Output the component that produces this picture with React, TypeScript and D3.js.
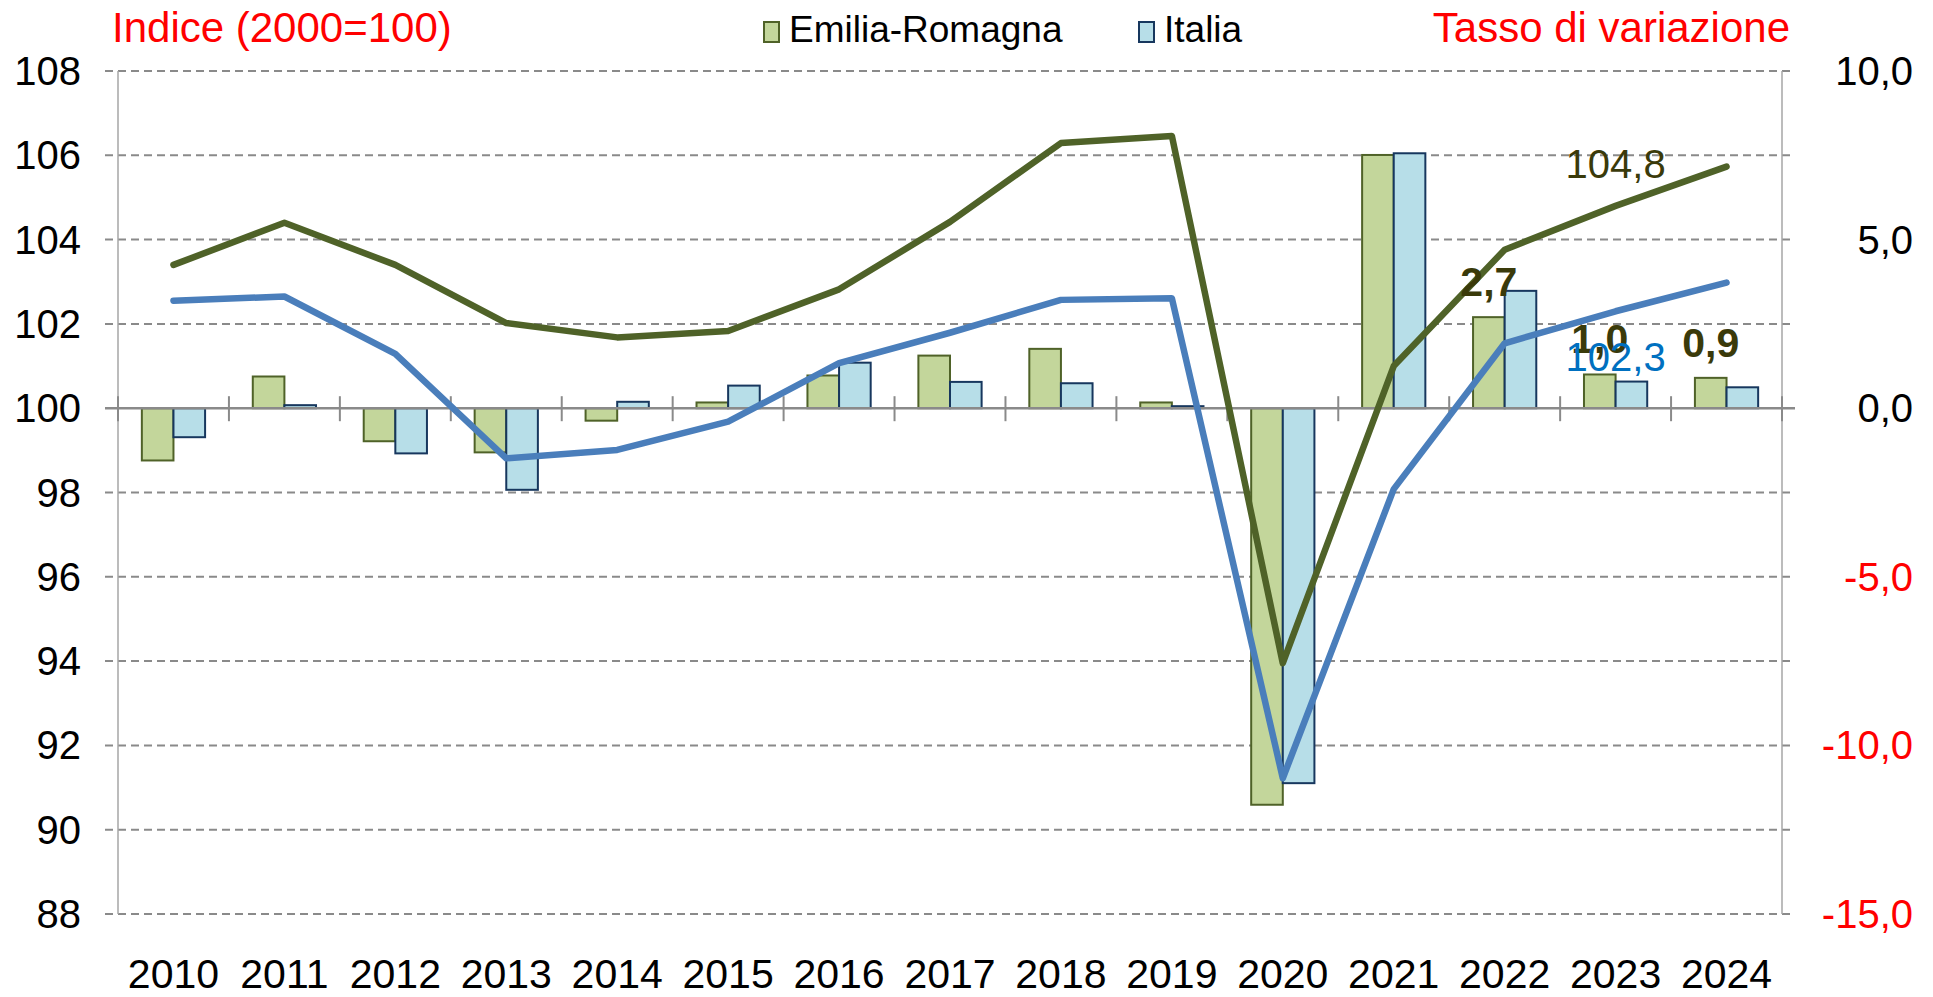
import { useEffect, useRef } from 'react';
import * as d3 from 'd3';

const years = ['2010', '2011', '2012', '2013', '2014', '2015', '2016', '2017', '2018', '2019', '2020', '2021', '2022', '2023', '2024'];
// tasso di variazione (asse destro, barre)
const erRate = [-1.55, 0.94, -0.98, -1.31, -0.37, 0.17, 0.97, 1.56, 1.76, 0.17, -11.76, 7.51, 2.7, 1.0, 0.9];
const itRate = [-0.86, 0.09, -1.34, -2.42, 0.19, 0.67, 1.35, 0.78, 0.74, 0.06, -11.12, 7.56, 3.48, 0.79, 0.62];
// indice 2000=100 (asse sinistro, linee)
const erIndex = [103.4, 104.4, 103.4, 102.02, 101.68, 101.83, 102.82, 104.42, 106.29, 106.46, 93.95, 101.0, 103.76, 104.8, 105.73];
const itIndex = [102.55, 102.65, 101.29, 98.81, 99.01, 99.68, 101.07, 101.79, 102.57, 102.61, 91.22, 98.08, 101.54, 102.3, 102.98];

const leftTicks = [88, 90, 92, 94, 96, 98, 100, 102, 104, 106, 108];
const rightTicks = [-15, -10, -5, 0, 5, 10];
const seriesNames = ['Emilia-Romagna', 'Italia'];
const barLabelYears = ['2022', '2023', '2024'];
const lineLabelYear = '2023';

const FONT = '"Liberation Sans", Arial, sans-serif';
const GREEN_FILL = '#C3D69B';
const GREEN_DARK = '#4F6228';
const BLUE_FILL = '#B7DEE8';
const BLUE_DARK = '#17375E';
const BLUE_LINE = '#4A7EBB';
const LABEL_DARK = '#3A3A0A';

export default function App() {
  const ref = useRef<SVGSVGElement>(null);
  const width = 1933;
  const height = 997;

  useEffect(() => {
    if (!ref.current) return;
    const svg = d3.select(ref.current);
    svg.selectAll('*').remove();

    const left = 118, right = 1782, top = 71, bottom = 914;
    const x = d3.scaleBand().domain(years).range([left, right]).padding(0);
    const yL = d3.scaleLinear().domain([88, 108]).range([bottom, top]);
    const yR = d3.scaleLinear().domain([-15, 10]).range([bottom, top]);
    const inner = d3.scaleBand().domain(seriesNames).range([-x.bandwidth() * 0.285, x.bandwidth() * 0.285]);
    const fmt = d3.formatLocale({ decimal: ',', thousands: '.', grouping: [3], currency: ['', '€'], minus: '-' }).format('.1f');
    const cx = (d: string) => x(d)! + x.bandwidth() / 2;

    // griglia
    svg.append('g').selectAll('line').data(leftTicks.filter((t) => t !== 100)).enter().append('line')
      .attr('x1', left - 13).attr('x2', right + 13)
      .attr('y1', (d) => yL(d)).attr('y2', (d) => yL(d))
      .attr('stroke', '#8a8a8a').attr('stroke-width', 2).attr('stroke-dasharray', '8,5');

    // assi verticali
    [left, right].forEach((xx) => {
      svg.append('line').attr('x1', xx).attr('x2', xx).attr('y1', top).attr('y2', bottom)
        .attr('stroke', '#a6a6a6').attr('stroke-width', 1.5);
    });

    // barre
    const bars = svg.append('g');
    bars.selectAll('rect.er').data(years).enter().append('rect')
      .attr('x', (d) => cx(d) + inner('Emilia-Romagna')!)
      .attr('width', inner.bandwidth())
      .attr('y', (d, i) => Math.min(yR(erRate[i]), yR(0)))
      .attr('height', (d, i) => Math.abs(yR(erRate[i]) - yR(0)))
      .attr('fill', GREEN_FILL).attr('stroke', GREEN_DARK).attr('stroke-width', 2);
    bars.selectAll('rect.it').data(years).enter().append('rect')
      .attr('x', (d) => cx(d) + inner('Italia')!)
      .attr('width', inner.bandwidth())
      .attr('y', (d, i) => Math.min(yR(itRate[i]), yR(0)))
      .attr('height', (d, i) => Math.abs(yR(itRate[i]) - yR(0)))
      .attr('fill', BLUE_FILL).attr('stroke', BLUE_DARK).attr('stroke-width', 2);

    // linea dello zero con tacche
    const y0 = yR(0);
    svg.append('line').attr('x1', left - 13).attr('x2', right + 13).attr('y1', y0).attr('y2', y0)
      .attr('stroke', '#8a8a8a').attr('stroke-width', 2.5);
    svg.append('g').selectAll('line').data(years.concat(['end'])).enter().append('line')
      .attr('x1', (d) => (d === 'end' ? right : x(d)!)).attr('x2', (d) => (d === 'end' ? right : x(d)!))
      .attr('y1', y0 - 12).attr('y2', y0 + 13)
      .attr('stroke', '#8a8a8a').attr('stroke-width', 2);

    // linee indice
    const line = d3.line<number>().x((d, i) => cx(years[i])).y((d) => yL(d));
    svg.append('path').attr('d', line(erIndex)).attr('fill', 'none').attr('stroke', GREEN_DARK)
      .attr('stroke-width', 6.5).attr('stroke-linejoin', 'round').attr('stroke-linecap', 'round');
    svg.append('path').attr('d', line(itIndex)).attr('fill', 'none').attr('stroke', BLUE_LINE)
      .attr('stroke-width', 6.5).attr('stroke-linejoin', 'round').attr('stroke-linecap', 'round');

    // etichette barre
    svg.append('g').selectAll('text').data(barLabelYears).enter().append('text')
      .attr('x', (d) => cx(d) + inner('Emilia-Romagna')! + inner.bandwidth() / 2)
      .attr('y', (d) => yR(erRate[years.indexOf(d)]) - 21)
      .attr('text-anchor', 'middle').attr('font-family', FONT).attr('font-size', 41)
      .attr('font-weight', 'bold').attr('fill', LABEL_DARK)
      .text((d) => fmt(erRate[years.indexOf(d)]));

    // etichette linee
    const li = years.indexOf(lineLabelYear);
    svg.append('text').attr('x', cx(lineLabelYear)).attr('y', yL(erIndex[li]) - 28)
      .attr('text-anchor', 'middle').attr('font-family', FONT).attr('font-size', 40).attr('fill', LABEL_DARK)
      .text(fmt(erIndex[li]));
    svg.append('text').attr('x', cx(lineLabelYear)).attr('y', yL(itIndex[li]) + 60)
      .attr('text-anchor', 'middle').attr('font-family', FONT).attr('font-size', 40).attr('fill', '#0070C0')
      .text(fmt(itIndex[li]));

    // etichette assi
    svg.append('g').selectAll('text').data(leftTicks).enter().append('text')
      .attr('x', 81).attr('y', (d) => yL(d) + 14).attr('text-anchor', 'end')
      .attr('font-family', FONT).attr('font-size', 40).attr('fill', '#000').text((d) => d);
    svg.append('g').selectAll('text').data(rightTicks).enter().append('text')
      .attr('x', 1913).attr('y', (d) => yR(d) + 14).attr('text-anchor', 'end')
      .attr('font-family', FONT).attr('font-size', 40).attr('fill', (d) => (d < 0 ? '#FF0000' : '#000'))
      .text((d) => fmt(d));
    svg.append('g').selectAll('text').data(years).enter().append('text')
      .attr('x', (d) => cx(d)).attr('y', 988).attr('text-anchor', 'middle')
      .attr('font-family', FONT).attr('font-size', 41).attr('fill', '#000').text((d) => d);

    // titoli assi
    svg.append('text').attr('x', 112).attr('y', 42).attr('font-family', FONT).attr('font-size', 42)
      .attr('fill', '#FF0000').text('Indice (2000=100)');
    svg.append('text').attr('x', 1790).attr('y', 42).attr('text-anchor', 'end').attr('font-family', FONT)
      .attr('font-size', 42).attr('fill', '#FF0000').text('Tasso di variazione');

    // legenda
    const legend = [
      { name: seriesNames[0], x: 764, fill: GREEN_FILL, stroke: GREEN_DARK },
      { name: seriesNames[1], x: 1139, fill: BLUE_FILL, stroke: BLUE_DARK },
    ];
    const lg = svg.append('g').selectAll('g').data(legend).enter().append('g');
    lg.append('rect').attr('x', (d) => d.x).attr('y', 22).attr('width', 15).attr('height', 20)
      .attr('fill', (d) => d.fill).attr('stroke', (d) => d.stroke).attr('stroke-width', 2);
    lg.append('text').attr('x', (d) => d.x + 25).attr('y', 42).attr('font-family', FONT).attr('font-size', 37)
      .attr('fill', '#000').text((d) => d.name);
  }, []);

  return (
    <svg ref={ref} width={width} height={height}
      style={{ position: 'absolute', left: 0, top: 0, background: '#fff' }} />
  );
}
